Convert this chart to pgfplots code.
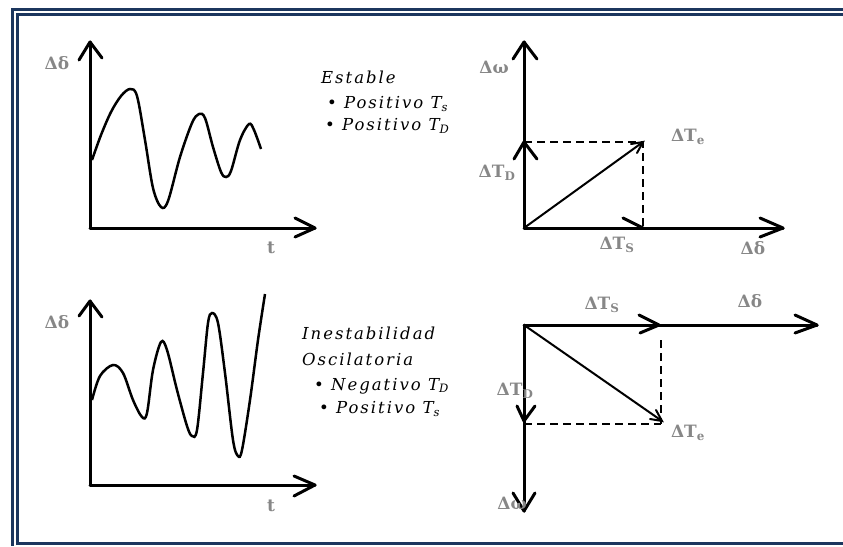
\documentclass[border=0pt]{standalone}
\usepackage{pgfplots}
\pgfplotsset{compat=1.18}
\usepackage{fontspec}
\setmainfont{DejaVu Serif}
\newfontfamily\notefont[LetterSpace=12]{DejaVu Serif}
\definecolor{frameblue}{RGB}{28,54,94}
\definecolor{lblgray}{RGB}{135,135,135}

\begin{document}
\begin{tikzpicture}[x=1pt,y=1pt,
  frame/.style={frameblue, line width=3pt},
  ax/.style={black, line width=3pt, line cap=round, line join=round},
  wave/.style={black, line width=2.5pt, smooth, tension=0.55},
  vec/.style={black, line width=2pt, line cap=round},
  proj/.style={black, line width=2pt, dash pattern=on 8pt off 5pt},
  lbl/.style={lblgray, font=\fontsize{17}{19}\selectfont\bfseries, inner sep=0pt},
  note/.style={font=\fontsize{16.5}{19}\selectfont\notefont\itshape, anchor=west, inner sep=0pt}]
\useasboundingbox (0,0) rectangle (843,546);
\begin{axis}[at={(0,0)}, anchor=south west, scale only axis,
  width=843pt, height=546pt, xmin=0, xmax=843, ymin=0, ymax=546,
  y dir=reverse, hide axis, clip=false]

% double frame
\addplot[frame] coordinates {(843,9.5) (12.5,9.5) (12.5,546)};
\addplot[frame] coordinates {(843,14.5) (17.5,14.5) (17.5,543) (843,543)};

% ---------- stable response: delta(t) ----------
\addplot[ax] coordinates {(90,228) (90,42)};
\addplot[ax] coordinates {(79,60) (90,42) (102,58)};
\addplot[ax] coordinates {(90,228) (315,228)};
\addplot[ax] coordinates {(295,218) (315,228) (295,237)};
\addplot[wave] coordinates {
  (92,160) (101,135) (111,112) (121,96) (130,89) (137,96)
  (145,140) (153,188) (161,207) (168,201) (180,157) (192,123) (199,114)
  (205,118) (213,147) (221,172) (226,177) (231,171) (240,140) (249,124)
  (254,130) (261,149)};
\node[lbl] at (axis cs:57,63) {Δδ};
\node[lbl] at (axis cs:271,248) {t};

% ---------- oscillatory instability: delta(t) ----------
\addplot[ax] coordinates {(90,485) (90,301)};
\addplot[ax] coordinates {(79,316) (90,301) (102,317)};
\addplot[ax] coordinates {(90,485) (315,485)};
\addplot[ax] coordinates {(294,476) (315,485) (294,496)};
\addplot[wave] coordinates {
  (92,400) (100,376) (113,365) (123,373) (133,400) (142,417) (147,413)
  (153,370) (161,342) (167,350) (177,390) (187,426) (192,436) (197,430)
  (203,373) (208,323) (212,313) (218,323) (225,373) (233,440) (238,456)
  (242,450) (250,400) (258,340) (265,294)};
\node[lbl] at (axis cs:57,322) {Δδ};
\node[lbl] at (axis cs:271,506) {t};

% ---------- notes ----------
\node[note] at (axis cs:321,77) {Estable};
\node[note] at (axis cs:327,104) {• Positivo T\textsubscript{s}};
\node[note] at (axis cs:325,126) {• Positivo T\textsubscript{D}};
\node[note] at (axis cs:302,333) {Inestabilidad};
\node[note] at (axis cs:302,359) {Oscilatoria};
\node[note] at (axis cs:314,386) {• Negativo T\textsubscript{D}};
\node[note] at (axis cs:319,409) {• Positivo T\textsubscript{s}};

% ---------- stable phasor diagram ----------
\addplot[ax] coordinates {(524,228) (524,42)};
\addplot[ax] coordinates {(513,59) (524,42) (537,59)};
\addplot[ax] coordinates {(514,159) (524,142) (537,159)};
\addplot[ax] coordinates {(524,228) (783,228)};
\addplot[ax] coordinates {(760,218) (783,228) (760,237)};
\addplot[ax] coordinates {(623,218) (643,228)};
\addplot[proj] coordinates {(524,142) (643,142) (643,228)};
\addplot[vec] coordinates {(524,228) (643,142)};
\addplot[vec] coordinates {(631,144) (643,142) (637,153)};
\node[lbl] at (axis cs:494,67) {Δω};
\node[lbl] at (axis cs:688,137) {ΔT\textsubscript{e}};
\node[lbl] at (axis cs:497,173) {ΔT\textsubscript{D}};
\node[lbl] at (axis cs:617,245) {ΔT\textsubscript{S}};
\node[lbl] at (axis cs:753,248) {Δδ};

% ---------- unstable phasor diagram ----------
\addplot[ax] coordinates {(524,325) (817,325)};
\addplot[ax] coordinates {(795,315) (817,325) (795,333)};
\addplot[ax] coordinates {(639,315) (659,325) (640,333)};
\addplot[ax] coordinates {(524,325) (524,511)};
\addplot[ax] coordinates {(513,493) (524,511) (535,493)};
\addplot[ax] coordinates {(517,406) (524,421) (535,406)};
\addplot[proj] coordinates {(524,424) (661,424)};
\addplot[proj] coordinates {(661,340) (661,424)};
\addplot[vec] coordinates {(524,325) (662,421)};
\addplot[vec] coordinates {(650,419) (662,421) (656,410)};
\node[lbl] at (axis cs:602,305) {ΔT\textsubscript{S}};
\node[lbl] at (axis cs:750,301) {Δδ};
\node[lbl] at (axis cs:515,391) {ΔT\textsubscript{D}};
\node[lbl] at (axis cs:688,433) {ΔT\textsubscript{e}};
\node[lbl] at (axis cs:512,503) {Δω};
\end{axis}
\end{tikzpicture}
\end{document}
